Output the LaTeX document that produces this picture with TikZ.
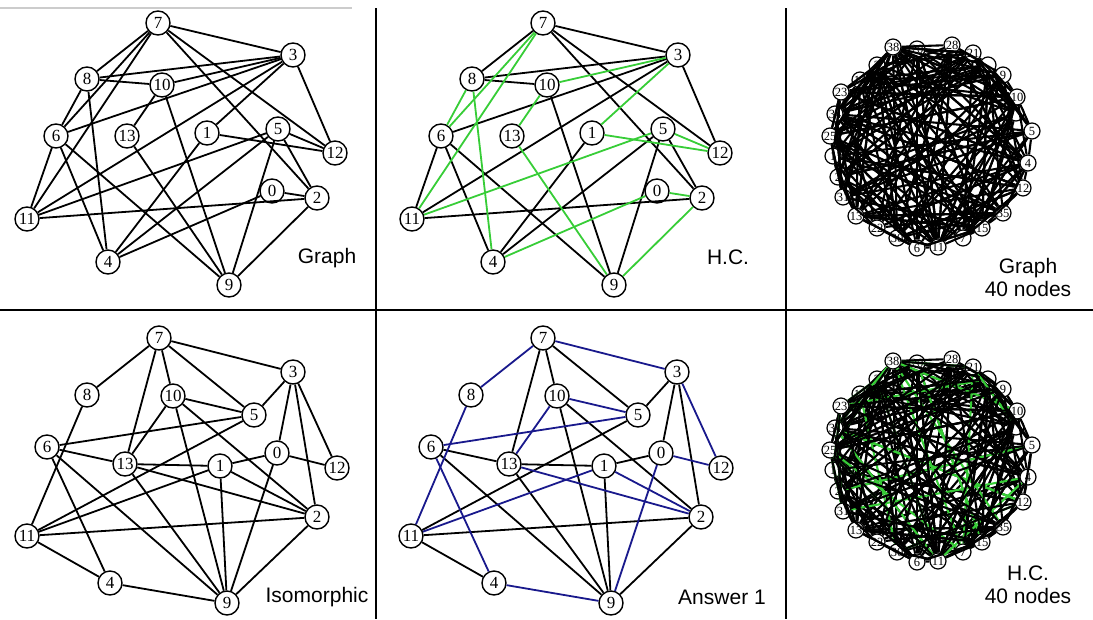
\documentclass[tikz,border=0pt]{standalone}
\usepackage{fontspec}
\setmainfont{Liberation Serif}
\newfontfamily\labelfont{Liberation Sans}
\usepackage{tikz}

\definecolor{hcgreen}{RGB}{55,205,55}
\definecolor{hcblue}{RGB}{25,25,140}

\tikzset{
  vertex/.style={circle, draw, fill=white, line width=1.4pt, minimum size=24pt,
    inner sep=0pt, font=\fontsize{17}{17}\selectfont},
  tiny vertex/.style={circle, draw, fill=white, line width=1.2pt, minimum size=16pt,
    inner sep=0pt, font=\fontsize{12.5}{12.5}\selectfont},
  link/.style={line width=1.8pt},
  thick link/.style={line width=2.1pt},
  tour/.style={link, hcgreen},
  answer/.style={link, hcblue},
  divider/.style={line width=2.6pt},
  caption/.style={font=\labelfont\fontsize{21}{23}\selectfont, align=center}
}

% 14 vertices of the first layout, #1 = name prefix, #2 = x shift
\newcommand{\layoutA}[2]{%
  \foreach \n/\x/\y in {7/158/23, 3/293/55, 8/87/79, 10/162/85, 6/56/136,
      13/127/136, 1/207/133, 5/278/129, 12/335/153, 0/272/191, 2/317/198,
      11/27/219, 4/108/262, 9/229/285}
    \node[vertex] (#1\n) at (\x+#2,\y) {\n};
}
% 14 vertices of the relabelled layout
\newcommand{\layoutB}[2]{%
  \foreach \n/\x/\y in {7/159/338, 3/293/372, 8/87/395, 10/173/396, 5/254/415,
      6/47/447, 0/277/453, 13/125/464, 1/220/466, 12/337/468, 2/317/517,
      11/27/536, 4/110/583, 9/227/603}
    \node[vertex] (#1\n) at (\x+#2,\y) {\n};
}
% ring of the big graph, #1 = name prefix, #2 = y shift
\newcommand{\ringnodes}[2]{%
  \foreach \lab/\x/\y [count=\i] in {38/893/47, 20/917/49, 28/952/45, 21/973/53,
      {}/988/65, 9/1003/75, 10/1017/97, {}/1016/113, 5/1032/131, 4/1028/163,
      12/1023/188, 35/1003/213, 15/982/228, 7/963/238, 11/938/247, 6/917/248,
      30/897/238, 22/877/228, 13/856/216, 31/843/197, 2/838/177, 1/833/156,
      25/830/136, 34/835/114, 23/841/92, 14/860/80, 3/877/65}
    \node[tiny vertex] (#1\i) at (\x,\y+#2) {\lab};
}
% #3 random chords between ring vertices
\newcommand{\chords}[3]{%
  \foreach \k in {1,...,#3}{%
    \pgfmathrandominteger{\a}{1}{27}%
    \pgfmathrandominteger{\b}{1}{27}%
    \ifnum\a=\b\relax\else\draw[#2] (#1\a) -- (#1\b);\fi
  }%
}

\begin{document}
\begin{tikzpicture}[x=1pt,y=-1pt]
  \useasboundingbox (0,0) rectangle (1093,619);

  % frame
  \draw[gray!40, line width=1.2pt] (0,8) -- (352,8);
  \draw[divider] (0,310) -- (1093,310);
  \draw[divider] (376,8) -- (376,619);
  \draw[divider] (786,8) -- (786,619);

  % graph
  \layoutA{g}{0}
  \foreach \u/\v in {7/3, 7/8, 7/6, 7/11, 7/2, 7/12, 3/8, 3/10, 3/6, 3/11, 3/1,
      3/12, 8/10, 8/6, 8/4, 10/13, 10/9, 6/11, 6/4, 6/9, 13/9, 1/12, 1/4, 5/12,
      5/11, 5/4, 5/9, 5/2, 0/2, 0/4, 11/2, 2/9}
    \draw[link] (g\u) -- (g\v);
  \node[caption] (capG) at (327,258) {Graph};

  % hamiltonian cycle
  \layoutA{h}{385}
  \foreach \u/\v in {7/3, 7/8, 7/2, 7/12, 3/8, 3/6, 3/11, 3/12, 8/10, 6/11, 6/4,
      6/9, 10/9, 1/4, 5/4, 5/9, 5/2, 11/2}
    \draw[link] (h\u) -- (h\v);
  \foreach \u/\v in {7/6, 6/8, 8/4, 4/0, 0/2, 2/9, 9/13, 13/10, 10/3, 3/1, 1/12,
      12/5, 5/11, 11/7}
    \draw[tour] (h\u) -- (h\v);
  \node[caption] (capH) at (728,257) {H.C.};

  % isomorphic graph
  \layoutB{i}{0}
  \foreach \u/\v in {7/3, 7/8, 7/13, 7/10, 7/5, 3/5, 3/0, 3/2, 3/12, 8/11, 10/5,
      10/13, 10/9, 10/2, 5/6, 5/11, 6/13, 6/4, 6/9, 13/1, 13/2, 13/9, 1/0, 1/11,
      1/2, 1/9, 0/12, 0/9, 11/2, 11/4, 4/9, 2/9}
    \draw[link] (i\u) -- (i\v);
  \node[caption] (capI) at (317,597) {Isomorphic};

  % answer
  \layoutB{a}{384}
  \foreach \u/\v in {7/13, 7/10, 7/5, 3/5, 3/0, 3/2, 10/9, 10/2, 5/11, 6/13, 6/9,
      13/1, 13/9, 1/0, 1/9, 11/2, 11/4, 2/9}
    \draw[link] (a\u) -- (a\v);
  \foreach \u/\v in {7/8, 8/11, 11/1, 1/2, 2/13, 13/10, 10/5, 5/6, 6/4, 4/9, 9/0,
      0/12, 12/3, 3/7}
    \draw[answer] (a\u) -- (a\v);
  \node[caption] (capA) at (722,597) {Answer 1};

  % 40 nodes
  \ringnodes{t}{0}
  \pgfmathsetseed{4711}
  \chords{t}{thick link}{260}
  \node[caption] (capT) at (1028,277) {Graph\\40 nodes};

  % 40 nodes with cycle
  \ringnodes{c}{314}
  \pgfmathsetseed{4711}
  \chords{c}{thick link}{150}
  \chords{c}{thick link, hcgreen}{28}
  \chords{c}{thick link}{110}
  \node[caption] (capC) at (1028,585) {H.C.\\40 nodes};
\end{tikzpicture}
\end{document}
